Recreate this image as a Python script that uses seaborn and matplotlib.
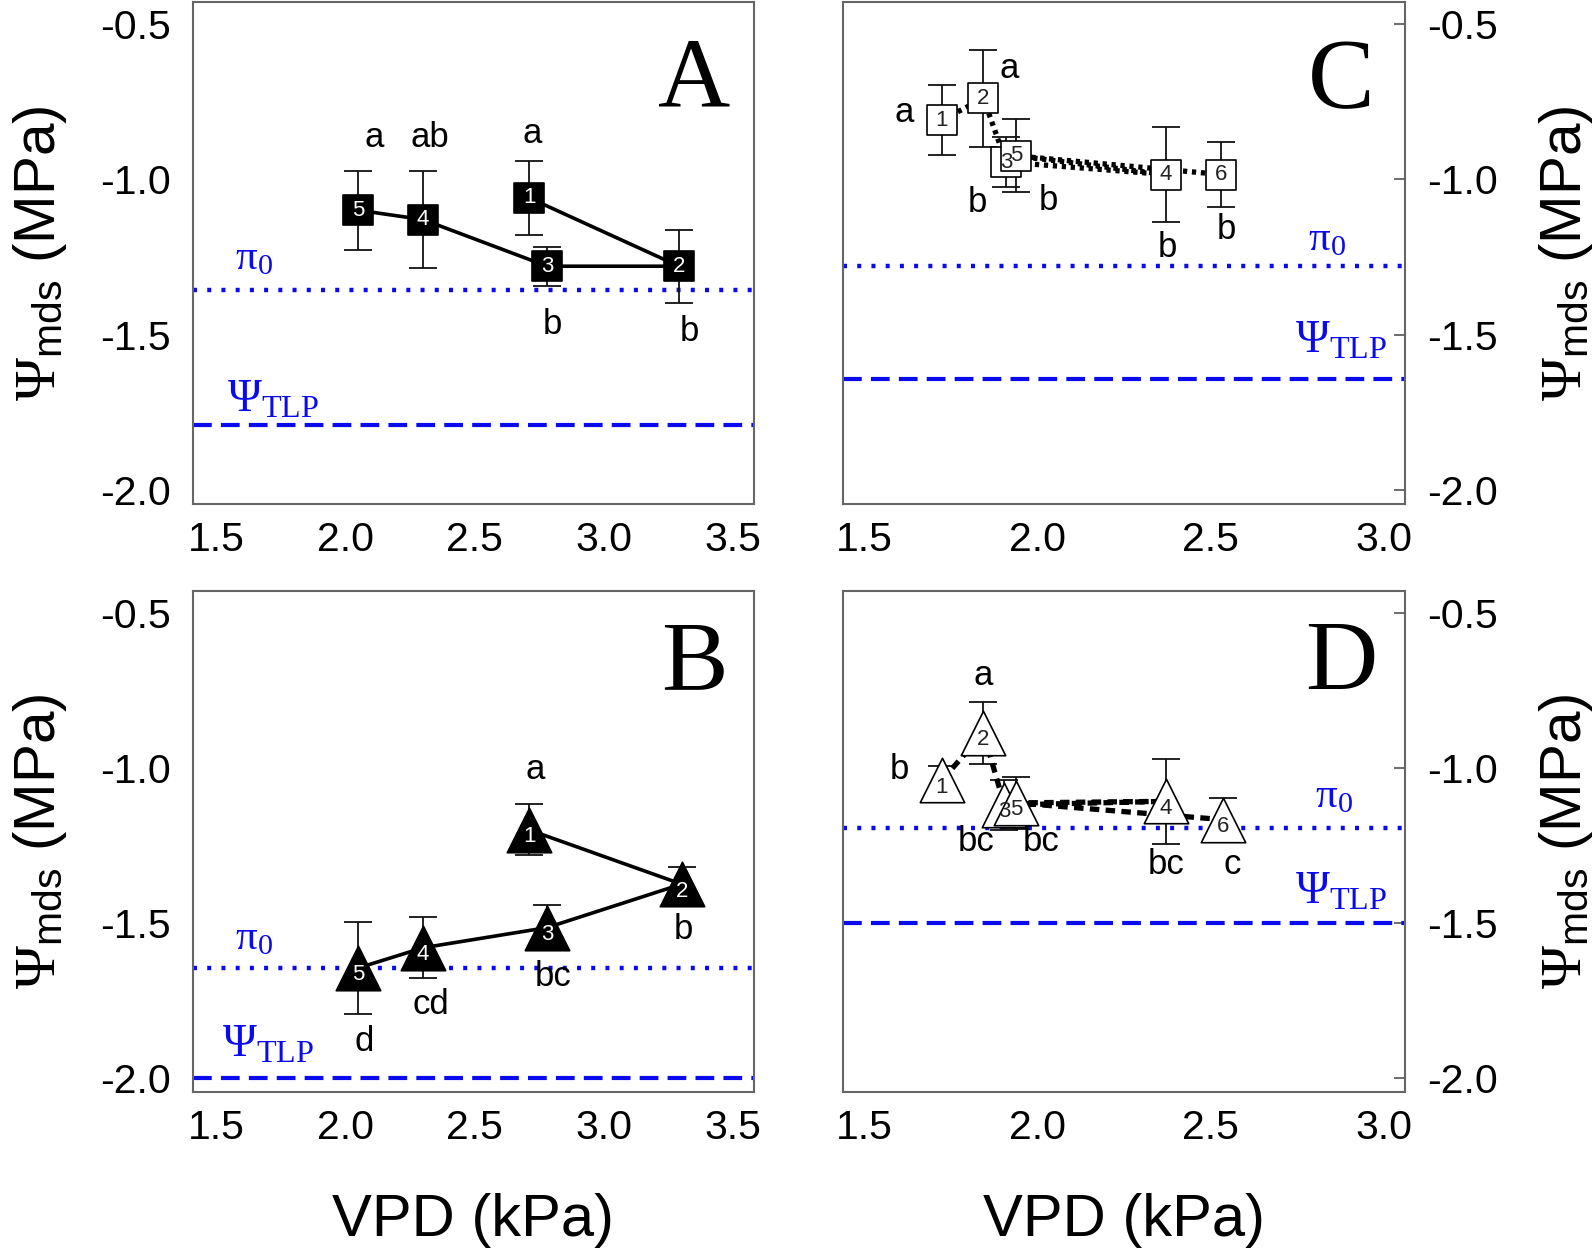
import matplotlib
matplotlib.use('Agg')
import matplotlib.pyplot as plt
import matplotlib.transforms as mtrans
import pandas as pd
import seaborn as sns

sns.set_theme(style='white')
plt.rcParams['font.family'] = ['Liberation Sans', 'DejaVu Sans']
plt.rcParams['mathtext.fontset'] = 'custom'
plt.rcParams['mathtext.rm'] = 'Liberation Serif'
plt.rcParams['mathtext.it'] = 'Liberation Serif:italic'
plt.rcParams['mathtext.sf'] = 'Liberation Sans'
plt.rcParams['axes.unicode_minus'] = False
plt.rcParams['text.color'] = 'black'
plt.rcParams['axes.labelcolor'] = 'black'

# ---------------- data ----------------
a_id = ['1', '2', '3', '4', '5']
a_vpd = [2.71, 3.29, 2.78, 2.30, 2.05]
a_psi = [-1.06, -1.28, -1.28, -1.13, -1.10]
a_err = [0.12, 0.117, 0.063, 0.156, 0.127]
a_letters = ['a', 'b', 'b', 'ab', 'a']
a_pi0 = -1.355
a_tlp = -1.79

b_id = ['1', '2', '3', '4', '5']
b_vpd = [2.71, 3.30, 2.78, 2.30, 2.05]
b_psi = [-1.20, -1.375, -1.515, -1.58, -1.645]
b_err = [0.082, 0.054, 0.073, 0.098, 0.147]
b_letters = ['a', 'b', 'bc', 'cd', 'd']
b_pi0 = -1.645
b_tlp = -2.0

c_id = ['1', '2', '3', '4', '5', '6']
c_vpd = [1.725, 1.845, 1.91, 2.37, 1.94, 2.53]
c_psi = [-0.81, -0.74, -0.945, -0.985, -0.925, -0.985]
c_err = [0.113, 0.157, 0.08, 0.152, 0.117, 0.105]
c_letters = ['a', 'a', 'b', 'b', 'b', 'b']
c_pi0 = -1.28
c_tlp = -1.643

d_id = ['1', '2', '3', '4', '5', '6']
d_vpd = [1.725, 1.845, 1.905, 2.37, 1.94, 2.535]
d_psi = [-1.04, -0.887, -1.12, -1.108, -1.113, -1.167]
d_err = [0.045, 0.10, 0.08, 0.136, 0.085, 0.071]
d_letters = ['b', 'a', 'bc', 'bc', 'bc', 'c']
d_pi0 = -1.194
d_tlp = -1.50

y_ticks = [-0.5, -1.0, -1.5, -2.0]
x_ticks_ab = [1.5, 2.0, 2.5, 3.0, 3.5]
x_ticks_cd = [1.5, 2.0, 2.5, 3.0]

# ---------------- layout / style ----------------
letter_pos = {
    'A': [(2.723, -0.853), (3.329, -1.489), (2.801, -1.468), (2.325, -0.866), (2.112, -0.866)],
    'B': [(2.733, -1.005), (3.308, -1.521), (2.801, -1.672), (2.329, -1.763), (2.071, -1.882)],
    'C': [(1.616, -0.785), (1.918, -0.645), (1.827, -1.075), (2.376, -1.22), (2.033, -1.07), (2.544, -1.161)],
    'D': [(1.603, -1.005), (1.845, -0.704), (1.825, -1.237), (2.371, -1.312), (2.010, -1.237), (2.562, -1.312)],
}
label_pos = {  # (panel letter, pi0 label, tlp label)
    'A': [(3.349, -0.690), (1.644, -1.253), (1.719, -1.71)],
    'B': [(3.349, -0.670), (1.644, -1.548), (1.699, -1.892)],
    'C': [(2.876, -0.690), (2.835, -1.194), (2.876, -1.52)],
    'D': [(2.876, -0.670), (2.856, -1.091), (2.876, -1.398)],
}

BLUE = '#0a0aee'
W, H = 1594, 1252
fig = plt.figure(figsize=(W / 100, H / 100), dpi=100)

def ax_at(l, t, r, b):
    return fig.add_axes([l / W, 1 - b / H, (r - l) / W, (b - t) / H])

panels = {
    'A': dict(ax=ax_at(193, 2, 754, 504), vpd=a_vpd, psi=a_psi, err=a_err, ids=a_id,
              letters=a_letters, pi0=a_pi0, tlp=a_tlp, marker='s', fill='black', txt='white',
              ls='-', xlim=(1.41, 3.58), xt=x_ticks_ab, right=False, bottom=False),
    'B': dict(ax=ax_at(193, 591, 754, 1092), vpd=b_vpd, psi=b_psi, err=b_err, ids=b_id,
              letters=b_letters, pi0=b_pi0, tlp=b_tlp, marker='^', fill='black', txt='white',
              ls='-', xlim=(1.41, 3.58), xt=x_ticks_ab, right=False, bottom=True),
    'C': dict(ax=ax_at(843, 2, 1405, 504), vpd=c_vpd, psi=c_psi, err=c_err, ids=c_id,
              letters=c_letters, pi0=c_pi0, tlp=c_tlp, marker='s', fill='white', txt='#222222',
              ls=(0, (0.8, 0.9)), xlim=(1.44, 3.06), xt=x_ticks_cd, right=True, bottom=False),
    'D': dict(ax=ax_at(843, 591, 1405, 1092), vpd=d_vpd, psi=d_psi, err=d_err, ids=d_id,
              letters=d_letters, pi0=d_pi0, tlp=d_tlp, marker='^', fill='white', txt='#222222',
              ls=(0, (1.8, 1.2)), xlim=(1.44, 3.06), xt=x_ticks_cd, right=True, bottom=True),
}

for name, p in panels.items():
    ax = p['ax']
    df = pd.DataFrame({'vpd': p['vpd'], 'psi': p['psi'], 'err': p['err'], 'id': p['ids']})

    ax.axhline(p['pi0'], color=BLUE, lw=3.2, linestyle=(0, (0.9, 2.3)), zorder=1)
    ax.axhline(p['tlp'], color=BLUE, lw=3.0, linestyle=(0, (4.5, 2.2)), zorder=1)

    ax.errorbar(df['vpd'], df['psi'], yerr=df['err'], fmt='none', ecolor='#111111',
                elinewidth=1.3, capsize=10, capthick=1.3, zorder=2)

    sns.lineplot(data=df, x='vpd', y='psi', sort=False, estimator=None, color='black',
                 lw=2.6 if p['ls'] == '-' else 3.8, linestyle=p['ls'], ax=ax, zorder=3,
                 legend=False)

    msize = 22 if p['marker'] == 's' else 32
    sns.scatterplot(data=df, x='vpd', y='psi', marker=p['marker'], s=msize ** 2,
                    color=p['fill'], edgecolor='black', linewidth=1.2, ax=ax, zorder=4,
                    legend=False)

    dy = 0 if p['marker'] == 's' else -5
    tr = mtrans.offset_copy(ax.transData, fig=fig, x=0, y=dy, units='points')
    for _, r in df.iterrows():
        ax.text(r['vpd'], r['psi'], r['id'], ha='center', va='center', fontsize=16,
                color=p['txt'], transform=tr, zorder=5)

    for (lx, ly), lt in zip(letter_pos[name], p['letters']):
        ax.text(lx, ly, lt, ha='center', va='center', fontsize=25, color='black', zorder=6)

    (px, py), (qx, qy), (tx, ty) = label_pos[name]
    ax.text(px, py, name, ha='center', va='center', fontsize=72,
            family='Liberation Serif', color='black')
    ax.text(qx, qy, r'$\mathrm{\pi}_{\mathrm{0}}$', ha='center', va='center',
            fontsize=31, color=BLUE)
    ax.text(tx, ty, r'$\mathrm{\Psi}_{\mathrm{TLP}}$', ha='center', va='center',
            fontsize=33, color=BLUE)

    ax.set_xlim(*p['xlim'])
    ax.set_ylim(-2.045, -0.43)
    ax.set_xticks(p['xt'])
    ax.set_xticklabels([f'{v:.1f}' for v in p['xt']])
    ax.set_yticks(y_ticks)
    ax.set_yticklabels([f'{v:.1f}' for v in y_ticks])
    for s in ax.spines.values():
        s.set_color('#666666')
        s.set_linewidth(1.5)
    ax.tick_params(direction='in', length=8, width=1.2, color='#555555', labelsize=29.5,
                   labelcolor='black')
    ax.tick_params(axis='y', pad=16)
    ax.tick_params(axis='x', pad=12)
    ylab = r'$\mathrm{\Psi}_{\mathsf{mds}}$ (MPa)'
    if p['right']:
        ax.yaxis.tick_right()
        ax.yaxis.set_label_position('right')
        ax.set_ylabel(ylab, fontsize=42, labelpad=28, rotation=90)
    else:
        ax.set_ylabel(ylab, fontsize=42, labelpad=22)
    if p['bottom']:
        ax.set_xlabel('VPD (kPa)', fontsize=43, labelpad=33)
    else:
        ax.set_xlabel('')

fig.savefig('out.png', dpi=100, facecolor='white')
